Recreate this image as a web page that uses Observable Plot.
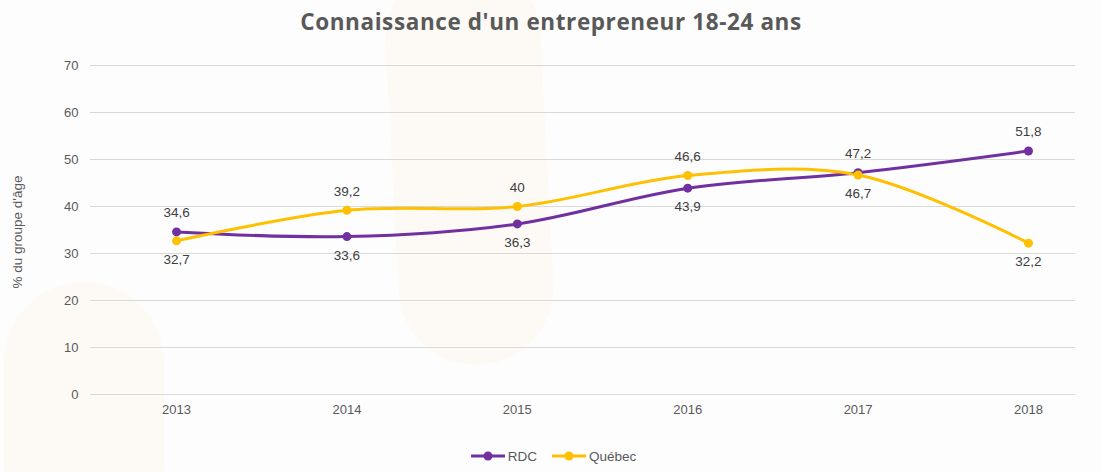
<!DOCTYPE html>
<html>
<head>
<meta charset="utf-8">
<script src="https://cdn.jsdelivr.net/npm/d3@7"></script>
<script src="https://cdn.jsdelivr.net/npm/@observablehq/plot@0.6"></script>
<style>
  html, body { margin: 0; padding: 0; background: #fdfdfe; }
  #wrap { position: relative; width: 1102px; height: 472px; overflow: hidden; font-family: "Liberation Sans", Arial, sans-serif; }
  .blob { position: absolute; background: #fff6e6; opacity: 0.3; z-index: 0; }
  #title { position: relative; z-index: 1; height: 45px; line-height: 44px; text-align: center; font-family: "Open Sans", sans-serif; font-weight: 700; font-size: 22.5px; letter-spacing: 0.6px; color: #595959; }
  #chart { position: relative; z-index: 1; height: 395px; }
  #ylabel { position: absolute; z-index: 2; left: 17px; top: 232px; transform: translate(-50%, -50%) rotate(-90deg); white-space: nowrap; font-size: 13.5px; color: #595959; }
  #legend { position: relative; z-index: 1; height: 32px; display: flex; justify-content: center; align-items: center; gap: 14px; font-size: 13.5px; color: #595959; padding-left: 4px; }
  .item { display: flex; align-items: center; gap: 2px; }
</style>
</head>
<body>
<div id="wrap">
  <div class="blob" style="left:392px; top:-40px; width:155px; height:405px; border-radius:80px; transform: rotate(-3deg);"></div>
  <div class="blob" style="left:4px; top:282px; width:160px; height:260px; border-radius:80px;"></div>
  <div id="title">Connaissance d'un entrepreneur 18-24 ans</div>
  <div id="chart"></div>
  <div id="ylabel">% du groupe d'âge</div>
  <div id="legend"></div>
</div>
<script>
const years = [2013, 2014, 2015, 2016, 2017, 2018];
const rdc = [34.6, 33.6, 36.3, 43.9, 47.2, 51.8];
const quebec = [32.7, 39.2, 40, 46.6, 46.7, 32.2];
const seriesNames = ["RDC", "Québec"];
const seriesColors = ["#7030A0", "#FFC000"];
const yTicks = [0, 10, 20, 30, 40, 50, 60, 70];

const seriesValues = [rdc, quebec];
const points = [];
seriesNames.forEach((name, si) => {
  const vals = seriesValues[si];
  const other = seriesValues[1 - si];
  years.forEach((yr, i) => {
    points.push({ series: name, year: yr, value: vals[i], above: vals[i] >= other[i] });
  });
});
const fmt = v => String(v).replace(".", ",");

const chart = Plot.plot({
  width: 1102,
  height: 395,
  marginLeft: 90,
  marginRight: 27,
  marginTop: 20,
  marginBottom: 46,
  style: { background: "transparent", fontFamily: "Liberation Sans, Arial, sans-serif", fontSize: "13px", color: "#595959" },
  x: { type: "linear", domain: [2012.495, 2018.276], label: null },
  y: { domain: [0, 70], label: null },
  color: { domain: seriesNames, range: seriesColors },
  marks: [
    Plot.ruleY(yTicks, { stroke: "#d9d9d9", strokeWidth: 1 }),
    Plot.axisY({ ticks: yTicks, tickSize: 0, tickPadding: 12, label: null, fill: "#595959", fontSize: 13 }),
    Plot.axisX({ ticks: years, tickSize: 0, tickPadding: 10, tickFormat: d => String(d), label: null, fill: "#595959", fontSize: 13 }),
    Plot.line(points, { x: "year", y: "value", z: "series", stroke: "series", strokeWidth: 3, curve: "catmull-rom" }),
    Plot.dot(points, { x: "year", y: "value", fill: "series", r: 4.5 }),
    Plot.text(points.filter(d => d.above), { x: "year", y: "value", text: d => fmt(d.value), dy: -19, fill: "#404040", fontSize: 13.5 }),
    Plot.text(points.filter(d => !d.above), { x: "year", y: "value", text: d => fmt(d.value), dy: 19, fill: "#404040", fontSize: 13.5 })
  ]
});
document.getElementById("chart").appendChild(chart);

const legend = document.getElementById("legend");
seriesNames.forEach((name, i) => {
  const item = document.createElement("div");
  item.className = "item";
  item.innerHTML = `<svg width="36" height="12"><line x1="1" y1="6" x2="35" y2="6" stroke="${seriesColors[i]}" stroke-width="3"/><circle cx="18" cy="6" r="4.5" fill="${seriesColors[i]}"/></svg><span>${name}</span>`;
  legend.appendChild(item);
});
</script>
</body>
</html>
